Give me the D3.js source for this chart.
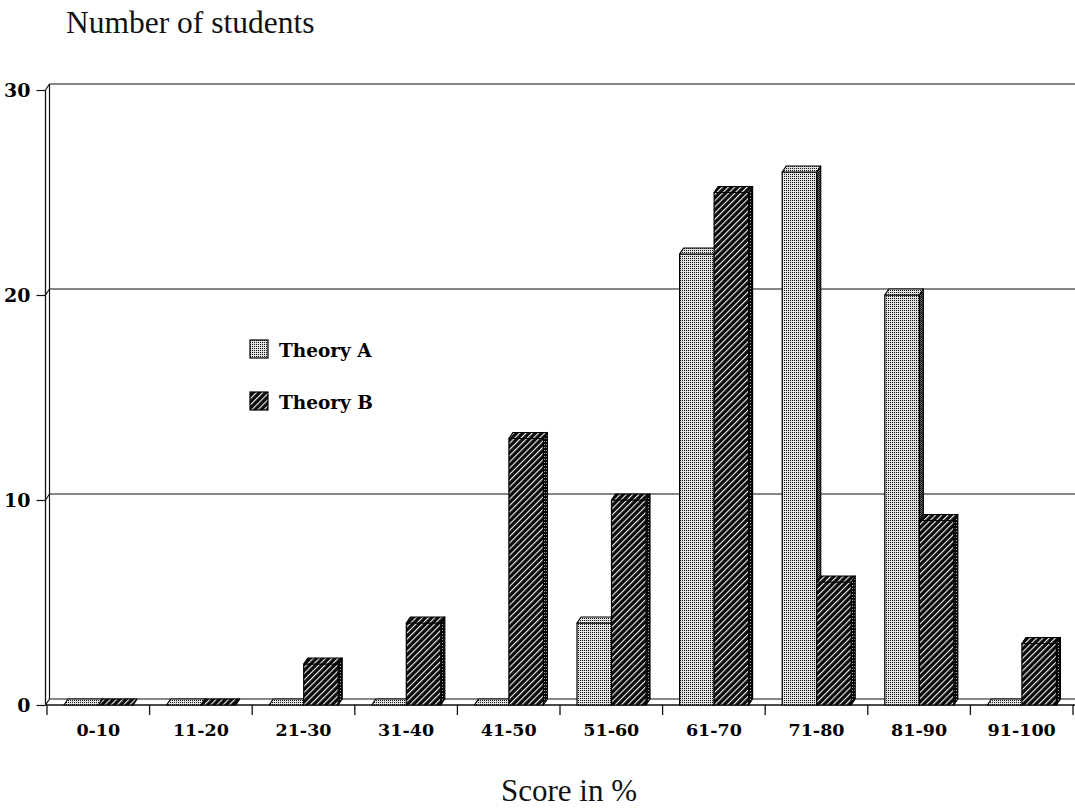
<!DOCTYPE html>
<html>
<head>
<meta charset="utf-8">
<script src="https://cdn.jsdelivr.net/npm/d3@7"></script>
<style>
  html, body { margin: 0; padding: 0; background: #fff; }
  svg { display: block; }
</style>
</head>
<body>
<svg id="chart" width="1075" height="810"></svg>
<script>
// Score bands and number of students per theory
const categories = ["0-10", "11-20", "21-30", "31-40", "41-50", "51-60", "61-70", "71-80", "81-90", "91-100"];
const seriesNames = ["Theory A", "Theory B"];
const theoryA = [0, 0, 0, 0, 0, 4, 22, 26, 20, 0];
const theoryB = [0, 0, 2, 4, 13, 10, 25, 6, 9, 3];
const yTicks = [0, 10, 20, 30];

const svg = d3.select("#chart");
const W = 1075;

// 3-D depth offset of the back plane (right and up)
const DX = 4, DY = 6;

const x = d3.scaleBand().domain(categories).range([47, 1073]).padding(0);
const xs = d3.scaleBand().domain(seriesNames).range([17, 86]).padding(0);
const y = d3.scaleLinear().domain([0, 30]).range([705, 90]);
const axisX = 45.5;

const serif = "'Liberation Serif', 'Times New Roman', serif";
const boldSerif = "'DejaVu Serif', serif";

// ---- fill patterns ----
const defs = svg.append("defs");

// stipple for Theory A
const pA = defs.append("pattern").attr("id", "dotsA")
  .attr("patternUnits", "userSpaceOnUse").attr("width", 2).attr("height", 2);
pA.append("rect").attr("width", 2).attr("height", 2).attr("fill", "#e2e2e2");
pA.append("rect").attr("width", 1).attr("height", 1).attr("fill", "#111");

// darker stipple for the side faces of Theory A
const pAs = defs.append("pattern").attr("id", "dotsAside")
  .attr("patternUnits", "userSpaceOnUse").attr("width", 2).attr("height", 2);
pAs.append("rect").attr("width", 2).attr("height", 2).attr("fill", "#777");
pAs.append("rect").attr("width", 1).attr("height", 1).attr("fill", "#000");
pAs.append("rect").attr("x", 1).attr("y", 1).attr("width", 1).attr("height", 1).attr("fill", "#000");

// dark diagonal hatch for Theory B
const pB = defs.append("pattern").attr("id", "hatchB")
  .attr("patternUnits", "userSpaceOnUse").attr("width", 4.4).attr("height", 4.4)
  .attr("patternTransform", "rotate(45)");
pB.append("rect").attr("width", 4.4).attr("height", 4.4).attr("fill", "#0a0a0a");
pB.append("rect").attr("x", 0).attr("width", 1.1).attr("height", 4.4).attr("fill", "#f4f4f4");

// side faces of Theory B
const pBs = defs.append("pattern").attr("id", "hatchBside")
  .attr("patternUnits", "userSpaceOnUse").attr("width", 2).attr("height", 3);
pBs.append("rect").attr("width", 2).attr("height", 3).attr("fill", "#080808");
pBs.append("rect").attr("width", 1).attr("height", 1).attr("fill", "#aaa");

const fills = { "Theory A": "url(#dotsA)", "Theory B": "url(#hatchB)" };
const sideFills = { "Theory A": "url(#dotsAside)", "Theory B": "url(#hatchBside)" };

// ---- back wall gridlines ----
const grid = svg.append("g").attr("stroke", "#111").attr("stroke-width", 1.2).attr("fill", "none");
grid.selectAll("line.grid").data(yTicks).join("line")
  .attr("x1", axisX + DX).attr("x2", W)
  .attr("y1", d => y(d) - DY).attr("y2", d => y(d) - DY);
grid.selectAll("line.diag").data(yTicks).join("line")
  .attr("x1", axisX).attr("x2", axisX + DX)
  .attr("y1", d => y(d)).attr("y2", d => y(d) - DY);
// back wall vertical edge
grid.append("line")
  .attr("x1", axisX + DX).attr("x2", axisX + DX)
  .attr("y1", y(30) - DY).attr("y2", y(0) - DY);

// floor front edge
grid.append("line")
  .attr("x1", axisX).attr("x2", W)
  .attr("y1", y(0)).attr("y2", y(0)).attr("stroke-width", 1.4);

// ---- y axis ----
const yAxis = d3.axisLeft(y).tickValues(yTicks).tickSize(9).tickPadding(6).tickFormat(d3.format("d"));
const gy = svg.append("g").attr("transform", `translate(${axisX},0)`).call(yAxis);
gy.select(".domain").attr("d", `M0,${y(30)}V${y(0)}`).attr("stroke", "#111").attr("stroke-width", 1.3);
gy.selectAll(".tick line").attr("stroke", "#111").attr("stroke-width", 1.2);
gy.selectAll(".tick text")
  .attr("font-family", boldSerif).attr("font-weight", "bold").attr("font-size", 19)
  .attr("fill", "#000").attr("dy", "0.36em");

// ---- x axis: labels centred, ticks at band boundaries ----
const xAxis = d3.axisBottom(x).tickSize(0).tickPadding(19);
const gx = svg.append("g").attr("transform", `translate(0,${y(0)})`).call(xAxis);
gx.select(".domain").remove();
gx.selectAll(".tick text")
  .attr("font-family", boldSerif).attr("font-weight", "bold").attr("font-size", 17.5)
  .attr("fill", "#000");
const bounds = categories.map(c => x(c)).concat([x(categories[categories.length - 1]) + x.bandwidth()]);
svg.append("g").selectAll("line").data(bounds).join("line")
  .attr("x1", d => d).attr("x2", d => d)
  .attr("y1", y(0)).attr("y2", y(0) + 10)
  .attr("stroke", "#111").attr("stroke-width", 1.3);

// ---- 3-D bars ----
const rows = [];
categories.forEach((c, i) => {
  rows.push({ cat: c, series: "Theory A", value: theoryA[i] });
  rows.push({ cat: c, series: "Theory B", value: theoryB[i] });
});

const bars = svg.append("g").selectAll("g.bar").data(rows).join("g").attr("class", "bar")
  .attr("stroke", "#000").attr("stroke-width", 1.2).attr("stroke-linejoin", "round");

bars.each(function (d) {
  const g = d3.select(this);
  const x0 = x(d.cat) + xs(d.series);
  const w = xs.bandwidth();
  const yt = y(d.value);
  const yb = y(0);
  // side face
  g.append("path")
    .attr("d", `M${x0 + w},${yt}L${x0 + w + DX},${yt - DY}L${x0 + w + DX},${yb - DY}L${x0 + w},${yb}Z`)
    .attr("fill", sideFills[d.series]);
  // front face
  g.append("rect")
    .attr("x", x0).attr("y", yt).attr("width", w).attr("height", Math.max(0, yb - yt))
    .attr("fill", fills[d.series]);
  // top face
  g.append("path")
    .attr("d", `M${x0},${yt}L${x0 + DX},${yt - DY}L${x0 + w + DX},${yt - DY}L${x0 + w},${yt}Z`)
    .attr("fill", fills[d.series]);
});

// ---- legend ----
const legend = svg.append("g").selectAll("g").data(seriesNames).join("g")
  .attr("transform", (d, i) => `translate(250,${340 + i * 52})`);
legend.append("rect").attr("width", 18).attr("height", 18)
  .attr("fill", d => fills[d]).attr("stroke", "#000").attr("stroke-width", 1.2);
legend.append("text").attr("x", 29).attr("y", 17)
  .attr("font-family", boldSerif).attr("font-weight", "bold").attr("font-size", 18.5)
  .text(d => d);

// ---- titles ----
svg.append("text").attr("x", 66).attr("y", 33)
  .attr("font-family", serif).attr("font-size", 31.5).attr("fill", "#111")
  .text("Number of students");
svg.append("text").attr("x", 569).attr("y", 801).attr("text-anchor", "middle")
  .attr("font-family", serif).attr("font-size", 31).attr("fill", "#111")
  .text("Score in %");
</script>
</body>
</html>
